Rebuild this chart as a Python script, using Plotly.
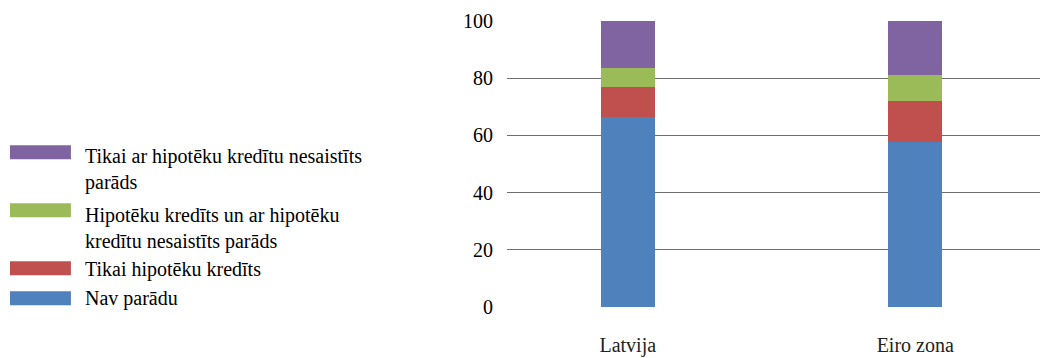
import plotly.graph_objects as go

# Household debt structure, % of households
categories = ["Latvija", "Eiro zona"]
series_names = [
    "Nav parādu",
    "Tikai hipotēku kredīts",
    "Hipotēku kredīts un ar hipotēku kredītu nesaistīts parāds",
    "Tikai ar hipotēku kredītu nesaistīts parāds",
]
nav_paradu = [66.3, 57.6]
tikai_hipoteku = [10.5, 14.3]
hipoteku_un_cits = [6.7, 9.1]
tikai_cits = [16.5, 19.0]
y_ticks = [0, 20, 40, 60, 80, 100]

# Legend labels as wrapped in the legend column
legend_labels = [
    "Nav parādu",
    "Tikai hipotēku kredīts",
    "Hipotēku kredīts un ar hipotēku<br>kredītu nesaistīts parāds",
    "Tikai ar hipotēku kredītu nesaistīts<br>parāds",
]

colors = ["#4F81BD", "#C0504D", "#9BBB59", "#8064A2"]
values = [nav_paradu, tikai_hipoteku, hipoteku_un_cits, tikai_cits]

FONT = "Liberation Serif, Times New Roman, serif"
FS = 20
W, H = 1040, 358
M_L, M_T, M_B = 506.5, 20.7, 51.3
PW, PH = W - M_L, H - M_T - M_B


def px_x(p):
    return (p - M_L) / PW


def px_y(p):
    return (H - M_B - p) / PH


fig = go.Figure()
for name, vals, col in zip(series_names, values, colors):
    fig.add_trace(go.Bar(
        x=categories, y=vals, name=name, marker_color=col,
        marker_line_width=0, width=0.1875, showlegend=False,
    ))

# Custom legend: wide swatches with wrapped serif labels
swatch_y = [298, 268, 210, 152]
text_y = [298, 269, 228, 169]
for lab, col, sy, ty in zip(legend_labels, colors, swatch_y, text_y):
    fig.add_shape(type="rect", xref="paper", yref="paper",
                  x0=px_x(9), x1=px_x(70), y0=px_y(sy - 7), y1=px_y(sy + 7),
                  fillcolor=col, line_width=0, layer="above")
    fig.add_annotation(xref="paper", yref="paper", x=px_x(82), y=px_y(ty),
                       text=lab, showarrow=False, xanchor="left",
                       yanchor="middle", align="left",
                       font=dict(family=FONT, size=FS, color="#000000"))

fig.update_layout(
    barmode="stack",
    width=W, height=H,
    margin=dict(l=M_L, r=0, t=M_T, b=M_B, pad=0),
    paper_bgcolor="white", plot_bgcolor="white",
    font=dict(family=FONT, size=FS, color="#000000"),
    bargap=0,
)
fig.update_xaxes(
    type="category", range=[-0.42, 1.434], showgrid=False, showline=False,
    zeroline=False, ticks="", ticklabelstandoff=24,
    tickfont=dict(family=FONT, size=FS, color="#222222"),
)
fig.update_yaxes(
    range=[0, 100], tickvals=y_ticks, showgrid=True, gridcolor="#6e6e6e",
    gridwidth=1, zeroline=False, showline=False, ticks="",
    ticklabelstandoff=13,
    tickfont=dict(family=FONT, size=FS, color="#000000"),
)

fig.write_html("out.html")
